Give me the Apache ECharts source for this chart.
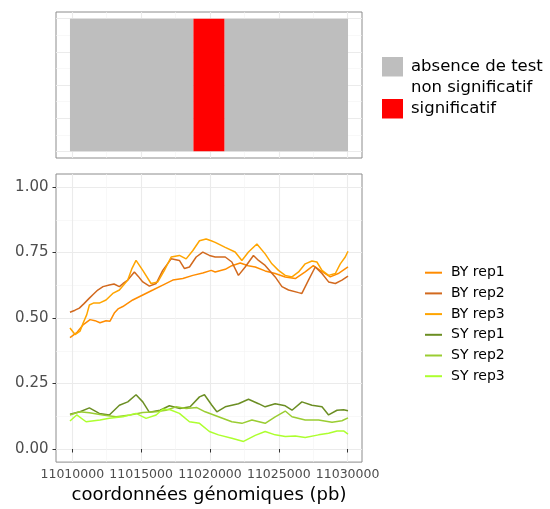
<!DOCTYPE html>
<html><head><meta charset="utf-8">
<script src="https://cdn.jsdelivr.net/npm/echarts@6/dist/echarts.min.js"></script>
<style>html,body{margin:0;padding:0;background:#fff}#c{width:550px;height:509px}</style>
</head><body><div id="c"></div>
<script>
// ---------- data ----------
const statusNames = ['absence de test', 'non significatif', 'significatif'];
const tileStatus = ['absence de test', 'significatif', 'absence de test'];
const tileStart = [11009830, 11018800, 11021050];
const tileEnd   = [11018800, 11021050, 11030030];

const xTicks = [11010000, 11015000, 11020000, 11025000, 11030000];
const xMinor = [11012500, 11017500, 11022500, 11027500];
const yTicks = [0, 0.25, 0.5, 0.75, 1];
const yMinor = [0.125, 0.375, 0.625, 0.875];
const xLimits = [11008815, 11031047];
const yLimits = [-0.05, 1.05];

const seriesNames = ['BY rep1', 'BY rep2', 'BY rep3', 'SY rep1', 'SY rep2', 'SY rep3'];

const byRep1Pos = [11009830,11010320,11010800,11011290,11011650,11012010,11012450,11012740,11013050,11013320,11013670,11014390,11015120,11015850,11016570,11017300,11018030,11018760,11019480,11020090,11020380,11021110,11021590,11022200,11022780,11023290,11024010,11024740,11025470,11026200,11026920,11027510,11028010,11028740,11029320,11030030];
const byRep1Val = [0.425,0.444,0.475,0.494,0.490,0.482,0.490,0.488,0.519,0.535,0.544,0.569,0.588,0.607,0.626,0.645,0.651,0.663,0.672,0.682,0.676,0.686,0.700,0.710,0.700,0.695,0.680,0.670,0.657,0.651,0.676,0.700,0.682,0.657,0.670,0.695];

const byRep2Pos = [11009830,11010200,11010510,11010850,11011240,11011510,11011850,11012230,11012690,11013030,11013420,11013690,11014030,11014510,11014780,11015120,11015600,11016090,11016570,11016890,11017180,11017780,11018150,11018510,11019000,11019480,11019960,11020380,11021110,11021590,11022070,11022560,11023160,11023530,11024010,11024740,11025230,11025710,11026440,11026680,11027160,11027650,11028140,11028620,11029110,11029590,11030030];
const byRep2Val = [0.522,0.530,0.538,0.555,0.576,0.590,0.607,0.620,0.626,0.630,0.620,0.632,0.645,0.676,0.660,0.638,0.622,0.632,0.682,0.705,0.726,0.720,0.689,0.695,0.733,0.752,0.739,0.733,0.733,0.714,0.663,0.695,0.739,0.720,0.701,0.657,0.620,0.607,0.597,0.594,0.645,0.695,0.670,0.638,0.632,0.645,0.660];

const byRep3Pos = [11009830,11010200,11010560,11010780,11011050,11011240,11011530,11011960,11012450,11012940,11013420,11014030,11014340,11014630,11015120,11015720,11016210,11016690,11017180,11017780,11018270,11018760,11019240,11019720,11020090,11020380,11021110,11021830,11022320,11022800,11023410,11024010,11024500,11024980,11025470,11025960,11026440,11026920,11027410,11027770,11028140,11028620,11029110,11029470,11029830,11030030];
const byRep3Val = [0.462,0.437,0.450,0.480,0.513,0.550,0.557,0.557,0.569,0.594,0.607,0.645,0.690,0.720,0.682,0.632,0.638,0.682,0.733,0.739,0.726,0.758,0.795,0.802,0.795,0.789,0.770,0.752,0.720,0.752,0.783,0.745,0.707,0.682,0.663,0.657,0.676,0.707,0.718,0.714,0.682,0.663,0.670,0.707,0.733,0.755];

const syRep1Pos = [11009830,11010560,11011240,11011960,11012690,11013420,11014030,11014630,11015120,11015600,11016380,11017050,11017830,11018560,11019240,11019600,11020140,11020500,11021110,11022070,11022800,11023530,11024010,11024740,11025470,11025960,11026680,11027410,11028140,11028620,11029230,11029710,11030030];
const syRep1Val = [0.133,0.142,0.157,0.136,0.130,0.167,0.180,0.207,0.180,0.140,0.148,0.165,0.155,0.161,0.199,0.207,0.167,0.142,0.161,0.173,0.190,0.173,0.161,0.173,0.165,0.148,0.180,0.167,0.161,0.130,0.148,0.150,0.146];

const syRep2Pos = [11009830,11010510,11011240,11012210,11013180,11014200,11015120,11016090,11016810,11017540,11018270,11019050,11019650,11020620,11021590,11022320,11023050,11024010,11024740,11025470,11025960,11026920,11027890,11028870,11029590,11030030];
const syRep2Val = [0.130,0.142,0.138,0.130,0.123,0.130,0.139,0.142,0.148,0.161,0.155,0.158,0.142,0.123,0.104,0.098,0.111,0.098,0.123,0.145,0.123,0.111,0.111,0.102,0.108,0.119];

const syRep3Pos = [11009830,11010320,11011000,11012010,11012690,11013670,11014630,11015360,11016090,11016570,11017110,11017780,11018510,11019240,11019960,11020620,11021590,11022440,11023290,11024010,11024740,11025470,11026200,11026920,11027890,11028620,11029230,11029710,11030030];
const syRep3Val = [0.107,0.130,0.104,0.111,0.117,0.123,0.136,0.117,0.130,0.152,0.150,0.136,0.104,0.098,0.067,0.054,0.041,0.029,0.052,0.067,0.054,0.048,0.050,0.044,0.054,0.060,0.069,0.069,0.057];

// ---------- styles ----------
const FONT = 'DejaVu Sans';
const statusColors = {'absence de test': '#BEBEBE', 'non significatif': '#FFFFFF', 'significatif': '#FF0000'};
const lineColors = ['#FF8C00', '#D2691E', '#FFA500', '#6B8E23', '#9ACD32', '#ADFF2F'];
const seriesPos = [byRep1Pos, byRep2Pos, byRep3Pos, syRep1Pos, syRep2Pos, syRep3Pos];
const seriesVal = [byRep1Val, byRep2Val, byRep3Val, syRep1Val, syRep2Val, syRep3Val];

const majorGrid = {color: '#EBEBEB', width: 1.1};
const minorGrid = {color: '#F3F3F3', width: 0.6};

function gridAxisX(gridIndex, values, style, withLabels) {
  return {
    type: 'value', gridIndex, min: xLimits[0], max: xLimits[1],
    position: 'bottom',
    axisLine: {show: false},
    axisTick: {show: !!withLabels, customValues: values, length: 3.5, lineStyle: {color: '#333333', width: 1}},
    axisLabel: withLabels ? {show: true, customValues: values, formatter: v => String(v), fontSize: 12.5, color: '#4D4D4D', margin: 6, fontFamily: FONT} : {show: false},
    splitLine: {show: true, lineStyle: style},
    name: withLabels ? 'coordonnées génomiques (pb)' : '',
    nameLocation: 'middle', nameGap: 21,
    nameTextStyle: {fontSize: 18, color: '#000000', fontFamily: FONT}
  };
}
function gridAxisY(gridIndex, values, style, withLabels) {
  return {
    type: 'value', gridIndex, min: yLimits[0], max: yLimits[1],
    position: 'left',
    axisLine: {show: false},
    axisTick: {show: !!withLabels, customValues: values, length: 3.5, lineStyle: {color: '#333333', width: 1}},
    axisLabel: withLabels ? {show: true, customValues: values, formatter: v => v.toFixed(2), fontSize: 15, color: '#4D4D4D', margin: 7.5, fontFamily: FONT} : {show: false},
    splitLine: {show: true, lineStyle: style}
  };
}

const tileSeries = statusNames.map(name => ({
  type: 'custom', name, xAxisIndex: 0, yAxisIndex: 0,
  itemStyle: {color: statusColors[name]},
  encode: {x: [0, 1]},
  data: tileStart.map((s, i) => [s, tileEnd[i]]).filter((d, i) => tileStatus[i] === name),
  renderItem: function (params, api) {
    const p0 = api.coord([api.value(0), 1]);
    const p1 = api.coord([api.value(1), 0]);
    return {type: 'rect', shape: {x: p0[0], y: p0[1], width: p1[0] - p0[0], height: p1[1] - p0[1]}, style: {fill: api.visual('color')}};
  }
}));

const lineSeries = seriesNames.map((name, k) => ({
  type: 'line', name, xAxisIndex: 1, yAxisIndex: 1,
  symbol: 'none', showSymbol: false,
  lineStyle: {width: 1.5, color: lineColors[k]},
  itemStyle: {color: lineColors[k]},
  data: seriesPos[k].map((x, i) => [x, seriesVal[k][i]])
}));

const chart = echarts.init(document.getElementById('c'), null, {renderer: 'canvas'});
chart.setOption({
  animation: false,
  backgroundColor: '#FFFFFF',
  textStyle: {fontFamily: FONT},
  grid: [
    {left: 56, top: 12, width: 306, height: 146, show: true, borderColor: '#8C8C8C', borderWidth: 1, backgroundColor: '#FFFFFF'},
    {left: 56, top: 174, width: 306, height: 291, show: true, borderColor: '#8C8C8C', borderWidth: 1, backgroundColor: '#FFFFFF'}
  ],
  xAxis: [
    gridAxisX(0, xTicks, majorGrid, false),
    gridAxisX(1, xTicks, majorGrid, true),
    gridAxisX(0, xMinor, minorGrid, false),
    gridAxisX(1, xMinor, minorGrid, false)
  ],
  yAxis: [
    gridAxisY(0, yTicks, majorGrid, false),
    gridAxisY(1, yTicks, majorGrid, true),
    gridAxisY(0, yMinor, minorGrid, false),
    gridAxisY(1, yMinor, minorGrid, false)
  ],
  legend: [
    {
      data: statusNames.map(n => ({name: n, icon: 'rect'})),
      orient: 'vertical', left: 377, top: 52,
      itemWidth: 21, itemHeight: 19.5, itemGap: 1.5,
      selectedMode: false,
      textStyle: {fontSize: 16.5, color: '#000000', fontFamily: FONT, padding: [0, 0, 0, 3]}
    },
    {
      data: seriesNames,
      orient: 'vertical', left: 419, top: 260.7,
      itemWidth: 17, itemHeight: 14, itemGap: 6.7,
      selectedMode: false,
      itemStyle: {opacity: 0},
      textStyle: {fontSize: 14, color: '#000000', fontFamily: FONT, padding: [0, 0, 0, 4]}
    }
  ],
  series: tileSeries.concat(lineSeries)
});
</script>
</body></html>
